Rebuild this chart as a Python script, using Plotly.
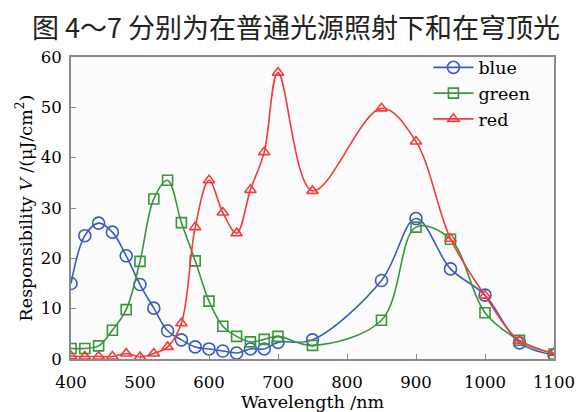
import plotly.graph_objects as go

wavelength = [400, 420, 440, 460, 480, 500, 520, 540, 560, 580, 600, 620, 640, 660, 680, 700, 750, 850, 900, 950, 1000, 1050, 1100]
blue = [15.0, 24.5, 27.0, 25.2, 20.5, 14.8, 10.1, 5.6, 3.8, 2.4, 2.0, 1.6, 1.2, 2.0, 2.0, 3.3, 3.8, 15.6, 27.9, 17.9, 12.7, 3.2, 0.8]
green = [2.1, 2.1, 2.6, 5.7, 9.8, 19.4, 31.8, 35.5, 27.1, 19.5, 11.5, 6.5, 4.5, 3.4, 3.9, 4.5, 2.7, 7.7, 26.2, 23.8, 9.2, 3.7, 1.0]
red = [0.6, 0.5, 0.5, 0.5, 1.1, 0.4, 1.1, 2.4, 7.1, 26.2, 35.5, 29.1, 25.0, 33.6, 41.1, 56.9, 33.4, 49.8, 43.2, 23.9, 12.6, 3.6, 1.2]
x_ticks = [400, 500, 600, 700, 800, 900, 1000, 1100]
y_ticks = [0, 10, 20, 30, 40, 50, 60]
heading = "图 4～7 分别为在普通光源照射下和在穹顶光"

SERIF = "DejaVu Serif, Liberation Serif, serif"

series = [
    ("blue", blue, "#3b5bbd", "circle-open", 12),
    ("green", green, "#3a963a", "square-open", 10),
    ("red", red, "#f23c3c", "triangle-up-open", 10),
]

fig = go.Figure()
for name, vals, col, sym, sz in series:
    fig.add_trace(go.Scatter(
        x=wavelength, y=vals, name=name, mode="lines+markers",
        line=dict(color=col, width=1.6, shape="spline", smoothing=1.0),
        marker=dict(symbol=sym, size=sz, color=col, line=dict(width=1.6, color=col)),
    ))

fig.update_layout(
    width=587, height=412,
    margin=dict(l=63, r=41, t=49, b=58),
    paper_bgcolor="white", plot_bgcolor="#fbfbfb",
    font=dict(family=SERIF, size=17, color="black"),
    showlegend=True,
    legend=dict(x=0.74, y=1.025, xanchor="left", yanchor="top",
                bgcolor="rgba(0,0,0,0)", font=dict(family=SERIF, size=17.5),
                tracegroupgap=0, itemwidth=40),
    xaxis=dict(range=[400, 1100], tickvals=x_ticks, ticks="inside", ticklen=5,
               tickcolor="#888", showgrid=False, zeroline=False,
               showline=True, linecolor="#8a8a8a", linewidth=2, mirror=True,
               ticklabelstandoff=7,
               title=dict(text="Wavelength /nm", font=dict(family=SERIF, size=17.5), standoff=4),
               tickfont=dict(family=SERIF, size=16.5)),
    yaxis=dict(range=[0, 60], tickvals=y_ticks, ticks="inside", ticklen=5,
               tickcolor="#888", showgrid=False, zeroline=False,
               showline=True, linecolor="#8a8a8a", linewidth=2, mirror=True,
               ticklabelstandoff=4,
               title=dict(text="Responsibility <i>V</i> /(μJ/cm<sup>2</sup>)",
                          font=dict(family=SERIF, size=17.5), standoff=4),
               tickfont=dict(family=SERIF, size=16.5)),
    annotations=[dict(text=heading, xref="paper", yref="paper", x=-0.085, y=1.0,
                      xanchor="left", yanchor="bottom", yshift=9, showarrow=False,
                      font=dict(family="Noto Sans CJK SC", size=27, color="#222"))],
)

fig.write_html("out.html")
